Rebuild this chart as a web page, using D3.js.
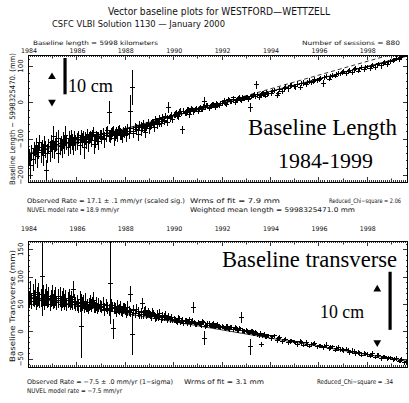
<!DOCTYPE html>
<html><head><meta charset="utf-8">
<script src="https://cdn.jsdelivr.net/npm/d3@7"></script>
<style>body{margin:0;background:#fff}svg{display:block}</style>
</head><body><svg id="c" width="409" height="403"></svg>
<script>
// ---- data ----
const sessionYear = [
1984.03,1984.07,1984.12,1984.16,1984.21,1984.26,1984.30,1984.35,1984.40,1984.44,1984.49,1984.54,1984.58,1984.63,1984.68,1984.72,1984.77,1984.82,1984.86,1984.91,1984.96,1985.00,1985.05,1985.10,1985.14,1985.19,1985.24,1985.28,1985.33,1985.38,1985.42,1985.47,1985.52,1985.56,1985.61,1985.66,1985.70,1985.75,1985.80,1985.84,1985.89,1985.94,1985.98,
1986.03,1986.09,1986.15,1986.21,1986.27,1986.33,1986.39,1986.45,1986.51,1986.57,1986.63,1986.69,1986.75,1986.81,1986.87,1986.93,1986.99,
1987.05,1987.11,1987.17,1987.23,1987.29,1987.35,1987.41,1987.47,1987.53,1987.59,1987.65,1987.71,1987.77,1987.83,1987.89,1987.95,
1988.01,1988.07,1988.13,1988.19,1988.25,1988.31,1988.37,1988.43,1988.49,1988.55,1988.61,1988.67,1988.73,1988.79,1988.85,1988.91,1988.97,
1989.03,1989.09,1989.15,1989.21,1989.27,1989.33,1989.39,1989.45,1989.51,1989.57,1989.63,1989.69,1989.75,1989.81,1989.87,1989.93,1989.99,
1990.04,1990.13,1990.22,1990.31,1990.40,1990.49,1990.58,1990.67,1990.76,1990.85,1990.94,
1991.03,1991.12,1991.21,1991.30,1991.39,1991.48,1991.57,1991.66,1991.75,1991.84,1991.93,
1992.02,1992.11,1992.20,1992.29,1992.38,1992.47,1992.56,1992.65,1992.74,1992.83,1992.92,
1993.01,1993.10,1993.19,1993.28,1993.37,1993.46,1993.55,1993.64,1993.73,1993.82,1993.91,
1994.05,1994.17,1994.29,1994.41,1994.53,1994.65,1994.77,1994.89,
1995.01,1995.13,1995.25,1995.37,1995.49,1995.61,1995.73,1995.85,1995.97,
1996.09,1996.21,1996.33,1996.45,1996.57,1996.69,1996.81,1996.93,
1997.05,1997.17,1997.29,1997.41,1997.53,1997.65,1997.77,1997.89,
1998.01,1998.13,1998.25,1998.37,1998.49,1998.61,1998.73,1998.85,1998.97,
1999.09,1999.21,1999.33,1999.45,1999.57,1999.66,
// additional sessions
1986.06,1986.18,1986.30,1986.42,1986.54,1986.66,1986.78,1986.90,
1987.02,1987.14,1987.26,1987.38,1987.50,1987.62,1987.74,1987.86,1987.98,
1988.10,1988.22,1988.34,1988.46,1988.58,1988.70,1988.82,1988.94,
1989.06,1989.18,1989.30,1989.42,1989.54,1989.66,1989.78,1989.90,
1990.08,1990.17,1990.26,1990.35,1990.44,1990.53,1990.62,1990.71,1990.80,1990.89,1990.98,
1991.07,1991.16,1991.25,1991.34,1991.43,1991.52,1991.61,1991.70,1991.79,1991.88,1991.97,
1992.06,1992.15,1992.24,1992.33,1992.42,1992.51,1992.60,1992.69,1992.78,1992.87,1992.96,
1993.05,1993.14,1993.23,1993.32,1993.41,1993.50,1993.59,1993.68,1993.77,1993.86,1993.95,
1994.11,1994.35,1994.59,1994.83,1995.07,1995.31,1995.55,1995.79,1996.03,1996.27,1996.51,1996.75,
1996.99,1997.23,1997.47,1997.71,1997.95,1998.19,1998.43,1998.67,1998.91,1999.15,1999.39,1999.62];

const lengthMm = [
-168,-152,-175,-140,-158,-128,-145,-120,-150,-132,-110,-138,-125,-146,-118,-130,-188,-142,-122,-135,-112,-128,-95,-131,-117,-108,-140,-99,-122,-113,-126,-104,-118,-92,-110,-124,-101,-115,-96,-108,-120,-100,-112,
-110,-98,-118,-92,-105,-125,-100,-88,-112,-96,-104,-82,-115,-94,-100,-108,-90,
-97,-85,-103,-92,-78,-29,-95,-88,-80,-99,-84,-91,-76,-87,-94,-82,
-79,-90,-72,-85,-26,40,-80,-68,-75,-88,-64,-78,-70,-62,-82,-66,-58,
-72,-60,-55,-68,-48,-62,-52,-45,-58,-42,-50,-38,-55,-15,-44,-36,-48,
-35,-28,-40,-25,-76,-30,-22,-33,-18,-26,-20,
-24,-14,-19,1,-8,-16,-10,-4,-13,-6,-9,
-2,5,-5,8,2,12,-1,6,14,4,10,
15,9,-15,18,22,48,12,20,26,17,24,
25,32,20,35,30,42,38,47,
44,50,40,53,48,58,55,62,60,
66,52,70,64,75,72,80,78,
84,79,88,82,92,86,95,90,
98,93,102,97,106,100,110,104,112,
115,120,118,126,130,134,
-102,-112,-95,-108,-99,-90,-106,-97,
-93,-100,-86,-95,-82,-90,-79,-88,-84,
-81,-73,-86,-70,-77,-66,-72,-63,
-65,-58,-53,-60,-47,-54,-43,-40,
-33,-37,-27,-31,-24,-29,-21,-26,-19,-23,-17,
-16,-20,-12,-15,-9,-13,-6,-11,-3,-7,-2,
1,-3,4,7,1,9,5,11,7,13,9,
14,11,17,19,15,21,18,24,21,27,23,
29,24,37,45,43,51,55,57,63,68,70,77,
81,85,89,92,96,99,103,107,111,117,124,132];

const lengthSig = [
28,24,35,22,30,20,26,22,32,24,20,28,22,30,25,24,30,26,20,28,22,25,30,24,20,26,28,22,24,20,26,22,24,28,20,24,22,26,20,22,24,20,22,
22,18,28,16,20,30,18,15,24,17,20,14,26,16,18,22,15,
18,15,22,16,14,32,18,16,14,20,15,17,13,16,18,14,
15,18,13,16,45,48,15,12,14,18,12,15,13,12,16,12,11,
14,11,10,13,10,12,10,9,11,9,10,8,10,15,9,8,10,
9,8,10,8,12,9,8,9,7,8,7,
8,7,8,14,7,8,7,6,8,7,6,
7,6,7,6,7,6,7,6,7,6,6,
6,7,12,6,6,12,7,6,6,6,7,
8,7,9,7,8,7,10,7,
7,8,7,8,7,8,7,8,7,
7,9,7,6,7,6,7,6,
7,6,7,6,7,6,7,6,
6,7,6,7,6,7,6,7,6,
6,7,6,7,6,7,
18,22,16,20,17,15,19,16,
16,14,17,15,13,16,14,15,13,
13,14,12,13,12,11,12,10,
11,10,10,9,10,9,9,8,
9,8,9,8,8,8,7,8,7,7,7,
7,8,7,7,7,6,7,6,7,6,6,
6,7,6,6,7,6,6,6,6,6,6,
6,6,6,7,6,6,6,6,6,6,6,
7,8,7,7,8,7,7,6,7,6,7,6,
7,6,7,6,6,7,6,7,6,6,7,6];

const transMm = [
64,58,70,55,66,60,72,52,63,68,57,61,100,65,54,62,67,58,63,50,60,66,55,59,64,52,61,57,63,50,58,62,54,60,49,57,61,53,58,52,77,55,50,
52,46,58,10,50,44,55,48,41,53,47,57,45,50,42,49,46,
44,50,38,47,42,40,88,48,5,43,37,46,40,45,36,42,
40,34,44,37,68,-5,39,33,41,36,30,35,51,31,38,29,34,
32,27,35,29,24,31,26,33,22,28,25,30,21,27,23,26,20,
22,18,24,16,20,19,15,21,17,43,14,
16,13,18,-12,11,15,10,14,9,12,8,
10,6,9,4,8,3,7,2,6,25,1,
2,-2,-28,0,-5,-3,-7,-24,-6,-9,-8,
-12,-8,-16,-11,-18,-14,-20,-17,
-19,-23,-18,-25,-21,-27,-24,-22,-28,
-26,-30,-25,-31,-28,-34,-30,-33,
-35,-32,-38,-36,-41,-38,-43,-40,
-42,-45,-40,-47,-44,-49,-46,-50,-48,
-52,-49,-54,-51,-57,-55,
51,47,54,45,49,52,44,47,
45,41,48,39,44,42,40,38,43,
38,35,40,33,37,31,36,32,
30,33,26,29,25,27,23,22,
21,17,23,19,15,20,18,14,19,16,13,
15,12,17,10,14,11,13,8,11,9,7,
8,5,9,3,7,4,6,1,5,2,0,
0,-3,1,-4,-2,-6,-4,-7,-5,-9,-8,
-10,-13,-15,-18,-21,-20,-24,-23,-27,-27,-29,-31,
-33,-34,-36,-39,-41,-43,-44,-47,-48,-50,-53,-56];

const transSig = [
18,15,22,14,20,16,24,13,18,21,15,17,72,19,14,16,20,15,18,13,16,19,14,17,18,13,16,15,19,12,15,17,14,16,12,15,17,13,15,13,16,14,13,
14,12,16,58,13,11,15,12,10,14,12,15,11,13,10,12,11,
11,13,10,12,11,10,75,12,18,11,10,12,10,11,9,10,
10,9,11,9,15,38,10,8,10,9,8,8,10,8,9,7,8,
8,7,8,7,6,8,7,8,6,7,6,7,6,7,6,6,5,
6,5,6,5,6,5,5,6,5,10,5,
5,5,5,12,5,5,4,5,4,5,4,
4,4,5,4,4,4,4,4,4,10,4,
4,4,14,4,4,4,4,5,4,4,4,
5,4,5,4,5,4,5,4,
4,5,4,4,5,4,4,5,4,
4,4,5,4,4,4,5,4,
4,4,4,5,4,4,4,4,
4,4,4,4,5,4,4,4,4,
4,4,4,4,4,4,
12,11,13,10,12,11,10,11,
10,11,9,10,9,10,9,9,9,
9,8,9,8,8,8,8,7,
7,7,6,7,6,6,6,6,
6,5,5,6,5,5,5,5,5,5,5,
5,5,4,5,5,4,5,4,5,4,4,
4,4,4,4,4,4,4,4,4,4,4,
4,4,4,4,4,4,4,4,4,4,4,
4,4,4,4,4,4,4,4,4,4,4,4,
4,4,4,4,4,4,4,4,4,4,4,4];

const yearLabels = [1984,1986,1988,1990,1992,1994,1996,1998];
const lengthTicks = [100,0,-100,-200];
const transTicks = [150,100,50,0,-50];

// fitted / model lines: value at reference year + rate (mm/yr)
const fitRefYear = 1992;
const lengthFit = {at: -4, rate: 17.1};
const lengthNuvel = {at: -1, rate: 18.9};
const transFit = {at: 3, rate: -7.5};

// 10 cm scale bars (year, from mm, to mm) and arrow markers
const lengthScaleBar = {year: 1985.53, from: 22, to: 122};
const lengthArrows = {year: 1984.99, up: 70, down: 1};
const transScaleBar = {year: 1998.96, from: 3, to: 109};
const transArrows = {year: 1998.43, up: 77, down: -20};

// ---- drawing ----
const svg = d3.select('#c');
const sans = "'DejaVu Sans', sans-serif";
const serif = "'Liberation Serif', 'Times New Roman', serif";
const x = d3.scaleLinear().domain([1984, 1999.7]).range([28, 408]);

function txt(str, px, py, size, len, opts = {}) {
  const t = svg.append('text').attr('x', px).attr('y', py)
    .attr('font-family', opts.family || sans).attr('font-size', size)
    .attr('fill', opts.fill || '#111').text(str);
  if (len) t.attr('textLength', len).attr('lengthAdjust', 'spacingAndGlyphs');
  if (opts.anchor) t.attr('text-anchor', opts.anchor);
  return t;
}

txt('Vector baseline plots for WESTFORD\u2014WETTZELL', 108, 14.5, 10, 222);
txt('CSFC VLBI Solution 1130 \u2014 January 2000', 52, 26.5, 9, 173);
txt('Baseline length =  5998 kilometers', 33, 44.5, 6, 125);
txt('Number of sessions = 880', 302, 44.5, 6, 98);

function panel(cfg) {
  const y = d3.scaleLinear().domain(cfg.domain).range([cfg.bottom, cfg.top]);
  const g = svg.append('g');
  const id = 'clip' + cfg.top;
  svg.append('clipPath').attr('id', id).append('rect')
    .attr('x', 28).attr('y', cfg.top).attr('width', 380).attr('height', cfg.bottom - cfg.top);

  // frame
  g.append('rect').attr('x', 28.5).attr('y', cfg.top + 0.5).attr('width', 379).attr('height', cfg.bottom - cfg.top)
    .attr('fill', 'none').attr('stroke', '#000').attr('stroke-width', 1);

  // x ticks (monthly minor, yearly major) on top and bottom edges
  const ticks = g.append('g').attr('stroke', '#000').attr('stroke-width', 0.8);
  for (let i = 1; i < 15.7 * 12; i++) {
    const yr = 1984 + i / 12;
    const major = i % 12 === 0;
    const len = major ? ((Math.round(yr) % 2 === 0) ? 5 : 3.5) : 2;
    const px = Math.round(x(yr)) + 0.5;
    ticks.append('line').attr('x1', px).attr('x2', px).attr('y1', cfg.top).attr('y2', cfg.top + len);
    ticks.append('line').attr('x1', px).attr('x2', px).attr('y1', cfg.bottom).attr('y2', cfg.bottom - len);
  }
  // y ticks
  const [lo, hi] = cfg.domain;
  for (let v = Math.ceil(lo / cfg.minor) * cfg.minor; v <= hi; v += cfg.minor) {
    const major = Math.abs(v % cfg.major) < 1e-6;
    const len = major ? 5 : 2;
    const py = Math.round(y(v)) + 0.5;
    ticks.append('line').attr('x1', 28).attr('x2', 28 + len).attr('y1', py).attr('y2', py);
    ticks.append('line').attr('x1', 408).attr('x2', 408 - len).attr('y1', py).attr('y2', py);
  }

  // x labels
  yearLabels.forEach(yr => txt(String(yr), x(yr) + 1, cfg.xLabelY, 6.5, 16, {anchor: 'middle'}));
  // y labels
  cfg.ticks.forEach(v => {
    svg.append('text').attr('transform', `translate(21,${y(v)}) rotate(-90)`)
      .attr('text-anchor', 'middle').attr('dominant-baseline', 'central')
      .attr('font-family', sans).attr('font-size', 7).attr('fill', '#111').text(String(v).replace('-', '\u2212'));
  });
  svg.append('text').attr('transform', `translate(12.5,${cfg.titleY}) rotate(-90)`)
    .attr('text-anchor', 'middle').attr('dominant-baseline', 'central')
    .attr('font-family', sans).attr('font-size', 7.5).attr('fill', '#111')
    .attr('textLength', cfg.titleLen).attr('lengthAdjust', 'spacingAndGlyphs').text(cfg.title);

  // fit / model lines (under the data)
  const dg = svg.append('g').attr('clip-path', `url(#${id})`).attr('stroke', '#000').attr('stroke-width', 1);
  cfg.lines.forEach(L => {
    dg.append('line').attr('x1', x(1984)).attr('x2', x(1999.7))
      .attr('y1', y(L.at + L.rate * (1984 - fitRefYear))).attr('y2', y(L.at + L.rate * (1999.7 - fitRefYear)))
      .attr('stroke-width', 0.8).attr('stroke-dasharray', L.dash || null);
  });
  // data: error bars with "+" ticks
  const marks = dg.append('g').attr('shape-rendering', 'crispEdges');
  sessionYear.forEach((t, i) => {
    const v = cfg.vals[i], e = cfg.sig[i];
    const px = x(t);
    marks.append('line').attr('x1', px).attr('x2', px).attr('y1', y(v - e)).attr('y2', y(v + e));
    marks.append('line').attr('x1', px - 2.5).attr('x2', px + 2.5).attr('y1', y(v)).attr('y2', y(v));
  });

  // scale bar + arrows
  const sb = cfg.bar;
  svg.append('line').attr('x1', x(sb.year)).attr('x2', x(sb.year)).attr('y1', y(sb.from)).attr('y2', y(sb.to))
    .attr('stroke', '#000').attr('stroke-width', 3.2);
  const ar = cfg.arrows;
  const tri = d3.symbol().type(d3.symbolTriangle).size(26);
  svg.append('path').attr('d', tri()).attr('transform', `translate(${x(ar.year)},${y(ar.up)})`).attr('fill', '#000');
  svg.append('path').attr('d', tri()).attr('transform', `translate(${x(ar.year)},${y(ar.down)}) rotate(180)`).attr('fill', '#000');
  return y;
}

panel({top: 55, bottom: 182, domain: [-219.4, 130.2], vals: lengthMm, sig: lengthSig,
  ticks: lengthTicks, major: 100, minor: 20, xLabelY: 53,
  title: 'Baseline Length \u2212 5998325470. (mm)', titleY: 119, titleLen: 132,
  lines: [lengthFit, Object.assign({dash: '4,3'}, lengthNuvel)],
  bar: lengthScaleBar, arrows: lengthArrows});

panel({top: 241, bottom: 367, domain: [-64.8, 165.1], vals: transMm, sig: transSig,
  ticks: transTicks, major: 50, minor: 10, xLabelY: 231,
  title: 'Baseline Transverse (mm)', titleY: 306, titleLen: 112,
  lines: [transFit], bar: transScaleBar, arrows: transArrows});

// statistics text
txt('Observed Rate = 17.1   \u00b1 .1 mm/yr (scaled sig.)', 27, 202.5, 6.5, 158);
txt('Wrms of fit = 7.9 mm', 190, 202.5, 6.5, 90);
txt('Reduced_Chi\u2212square = 2.06', 401, 202.5, 6.2, 72, {anchor: 'end'});
txt('NUVEL model rate = 18.9 mm/yr', 27, 211.5, 6.5, 92);
txt('Weighted mean length = 5998325471.0 mm', 190, 211.5, 6.5, 165);
txt('Observed Rate = \u22127.5   \u00b1 .0 mm/yr (1\u2212sigma)', 27, 383.5, 6.5, 146);
txt('Wrms of fit = 3.1 mm', 184, 383.5, 6.5, 80);
txt('Reduced_Chi\u2212square = .34', 317, 383.5, 6.5, 76);
txt('NUVEL model rate = \u22127.5 mm/yr', 27, 392.5, 6.5, 95);

// big serif annotations
txt('10 cm', 68, 92, 18.5, 45, {family: serif, fill: '#000'});
txt('Baseline Length', 248, 135, 22.5, 149, {family: serif, fill: '#000'});
txt('1984-1999', 278, 168, 22, 95, {family: serif, fill: '#000'});
txt('Baseline transverse', 222, 267, 22.5, 175, {family: serif, fill: '#000'});
txt('10 cm', 320, 318, 18, 44, {family: serif, fill: '#000'});
</script></body></html>
